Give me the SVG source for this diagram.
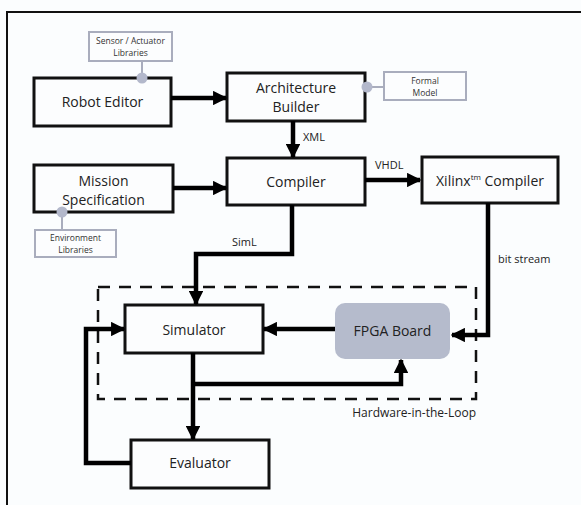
<svg xmlns="http://www.w3.org/2000/svg" width="581" height="505" viewBox="0 0 581 505">
<defs>
<style>
.box{fill:#fcfdfe;stroke:#111;stroke-width:3}
.lib{fill:#fcfdfe;stroke:#a9adbd;stroke-width:2}
.dot{fill:#b3b8cb}
.t{font-family:"Open Sans","Liberation Sans",sans-serif;font-size:14px;fill:#222;text-anchor:middle}
.s{font-family:"Open Sans","Liberation Sans",sans-serif;font-size:8.5px;fill:#333;text-anchor:middle}
.l{font-family:"Open Sans","Liberation Sans",sans-serif;font-size:11px;fill:#222}
.c{fill:none;stroke:#000;stroke-width:4.5}
</style>
<marker id="ah" viewBox="0 0 10 10" refX="9" refY="5" markerWidth="3.2" markerHeight="3.2" orient="auto" markerUnits="strokeWidth">
<path d="M0,0 L10,5 L0,10 z" fill="#000"/>
</marker>
</defs>
<rect x="0" y="0" width="581" height="505" fill="#fbfdfe"/>
<rect x="7" y="12" width="590" height="510" fill="none" stroke="#111" stroke-width="2"/>

<g id="hil">
<rect x="98" y="287" width="378" height="112" fill="none" stroke="#111" stroke-width="2.5" stroke-dasharray="12,9"/>
<text class="l" x="476" y="417" text-anchor="end" style="font-size:12px">Hardware-in-the-Loop</text>
</g>

<g id="sensor-lib">
<line x1="142" y1="61" x2="142" y2="78" stroke="#a9adbd" stroke-width="2"/>
<rect class="lib" x="89" y="32" width="83" height="29"/>
<text class="s" x="130.5" y="43.5">Sensor / Actuator</text>
<text class="s" x="130.5" y="55.5">Libraries</text>
</g>
<g id="robot-editor">
<rect class="box" x="34" y="78" width="137" height="48"/>
<text class="t" x="102.5" y="107">Robot Editor</text>
<circle class="dot" cx="142" cy="78" r="5.5"/>
</g>
<g id="arch-builder">
<rect class="box" x="227" y="73" width="138" height="48"/>
<text class="t" x="296" y="93">Architecture</text>
<text class="t" x="296" y="112">Builder</text>
</g>
<g id="formal-model">
<line x1="367" y1="87" x2="384" y2="87" stroke="#a9adbd" stroke-width="2"/>
<rect class="lib" x="384" y="72" width="82" height="28"/>
<text class="s" x="425" y="83.5">Formal</text>
<text class="s" x="425" y="95.5">Model</text>
<circle class="dot" cx="367" cy="87" r="5.5"/>
</g>
<g id="mission">
<rect class="box" x="34" y="165" width="139" height="47"/>
<text class="t" x="103.5" y="186">Mission</text>
<text class="t" x="103.5" y="205">Specification</text>
</g>
<g id="env-lib">
<line x1="62" y1="212" x2="62" y2="230" stroke="#a9adbd" stroke-width="2"/>
<rect class="lib" x="35" y="230" width="81" height="27"/>
<text class="s" x="75.5" y="241">Environment</text>
<text class="s" x="75.5" y="253">Libraries</text>
<circle class="dot" cx="62" cy="212" r="5.5"/>
</g>
<g id="compiler">
<rect class="box" x="227" y="158" width="138" height="47"/>
<text class="t" x="296" y="187">Compiler</text>
</g>
<g id="xilinx">
<rect class="box" x="422" y="157" width="136" height="46"/>
<text class="t" x="490" y="186">Xilinx<tspan style="font-size:8px" dy="-6">tm</tspan><tspan dy="6"> Compiler</tspan></text>
</g>
<g id="simulator">
<rect class="box" x="125" y="305" width="138" height="48"/>
<text class="t" x="194" y="335">Simulator</text>
</g>
<g id="fpga">
<rect x="335" y="303" width="115" height="56" rx="10" fill="#b5bbcc"/>
<text class="t" x="392.5" y="336">FPGA Board</text>
</g>
<g id="evaluator">
<rect class="box" x="131" y="440" width="138" height="48"/>
<text class="t" x="200" y="468">Evaluator</text>
</g>

<g id="connectors">
<line class="c" x1="171" y1="98" x2="226" y2="98" marker-end="url(#ah)"/>
<line class="c" x1="293" y1="121" x2="293" y2="157" marker-end="url(#ah)"/>
<line class="c" x1="173" y1="188" x2="226" y2="188" marker-end="url(#ah)"/>
<line class="c" x1="365" y1="180" x2="420" y2="180" marker-end="url(#ah)"/>
<polyline class="c" points="292,205 292,254 196,254 196,304" marker-end="url(#ah)"/>
<polyline class="c" points="488,203 488,335 452,335" marker-end="url(#ah)"/>
<line class="c" x1="335" y1="329" x2="264" y2="329" marker-end="url(#ah)"/>
<line class="c" x1="193" y1="353" x2="193" y2="439" marker-end="url(#ah)"/>
<polyline class="c" points="193,384 401,384 401,360" marker-end="url(#ah)"/>
<polyline class="c" points="131,463 86,463 86,329 124,329" marker-end="url(#ah)"/>
<text class="l" x="303" y="141">XML</text>
<text class="l" x="375" y="169">VHDL</text>
<text class="l" x="232" y="246">SimL</text>
<text class="l" x="498" y="263">bit stream</text>
</g>
</svg>
